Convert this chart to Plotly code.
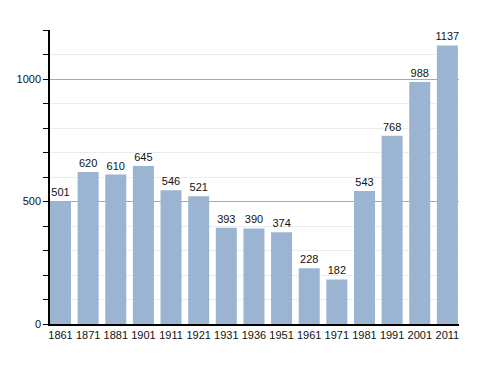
import plotly.graph_objects as go

years = ["1861", "1871", "1881", "1901", "1911", "1921", "1931", "1936",
         "1951", "1961", "1971", "1981", "1991", "2001", "2011"]
population = [501, 620, 610, 645, 546, 521, 393, 390, 374, 228, 182, 543, 768, 988, 1137]
y_ticks = [0, 500, 1000]

fig = go.Figure(go.Bar(
    x=years, y=population,
    text=[str(v) for v in population],
    textposition="outside",
    constraintext="none",
    textfont=dict(size=11, color="#111"),
    cliponaxis=False,
    marker=dict(color="#9bb4d1", line=dict(width=0)),
))

fig.update_layout(
    width=488, height=373,
    margin=dict(l=50, r=29, t=30, b=49),
    paper_bgcolor="white", plot_bgcolor="white",
    font=dict(family="Liberation Sans, Arial, sans-serif", size=11, color="#111"),
    bargap=0.24,
    showlegend=False,
)
fig.update_xaxes(
    type="category",
    range=[-0.38, 14.42],
    automargin=False,
    showline=True, linecolor="black", linewidth=1.5,
    ticks="", showgrid=False,
    tickfont=dict(size=11),
)
fig.update_yaxes(
    range=[0, 1200],
    tickvals=y_ticks,
    automargin=False,
    showline=True, linecolor="black", linewidth=1.5,
    ticks="outside", ticklen=5, tickcolor="black",
    showgrid=True, gridcolor="#aaaaaa", gridwidth=1,
    zeroline=False,
    minor=dict(dtick=100, tick0=0, ticks="outside", ticklen=5, tickcolor="black",
               showgrid=True, gridcolor="#ececec", gridwidth=1),
    tickfont=dict(size=11),
)

fig.write_html(
    "out.html",
    config={"displayModeBar": False},
    post_script="document.body.style.margin='0';document.body.style.overflow='hidden';",
)
